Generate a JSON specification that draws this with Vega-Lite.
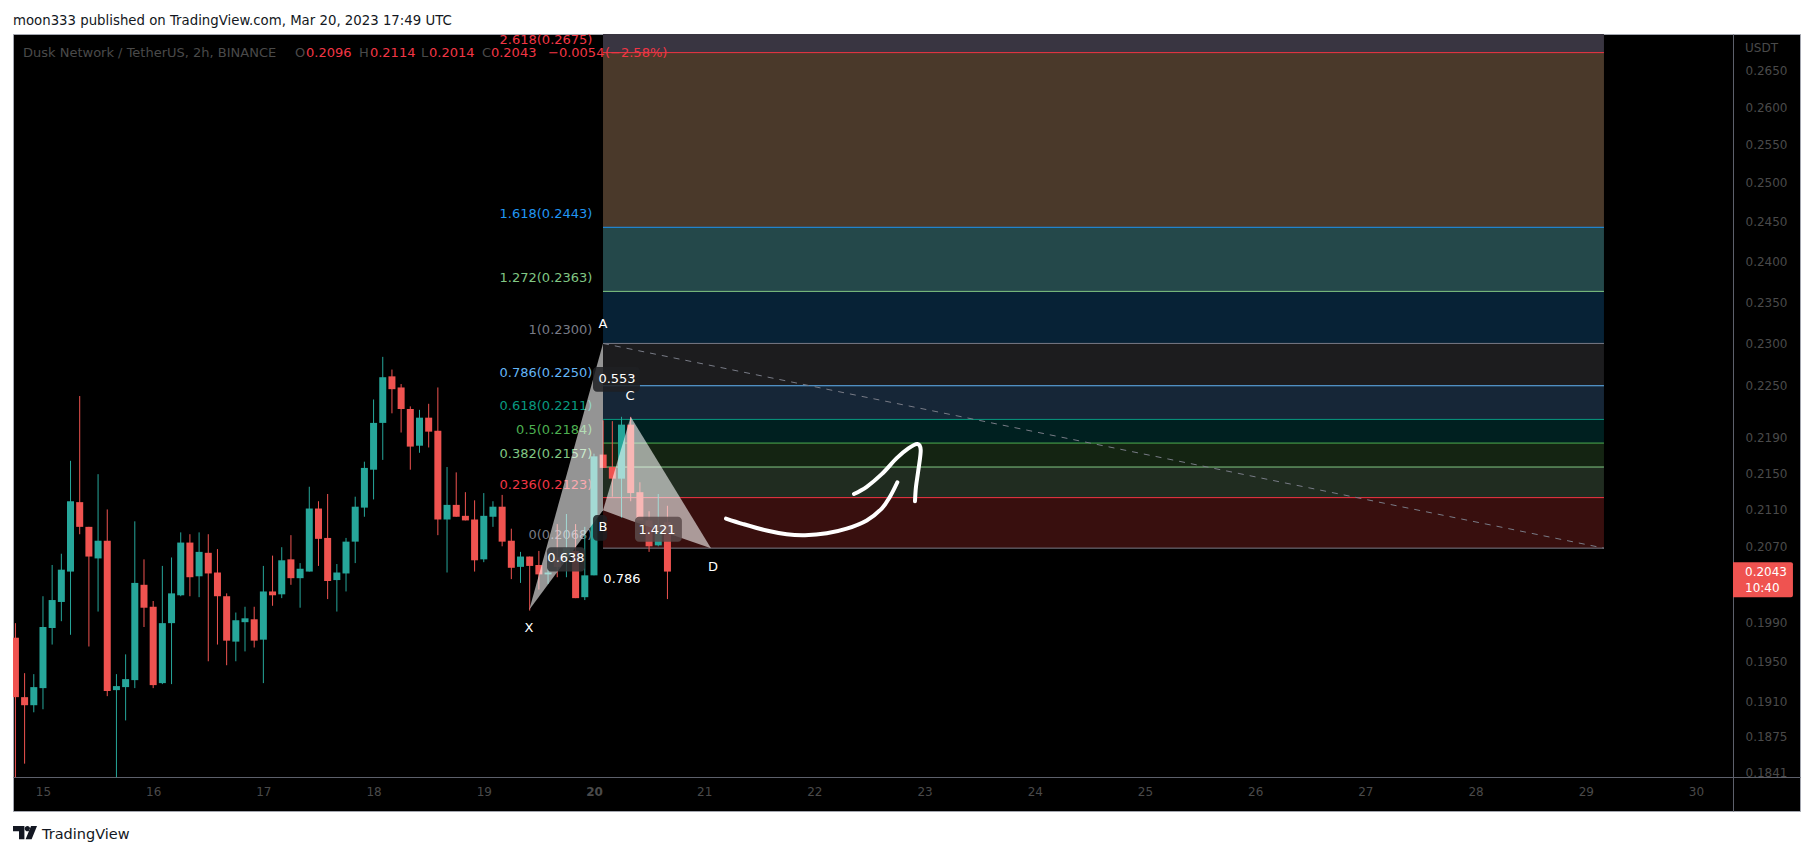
{"$schema":"https://vega.github.io/schema/vega-lite/v6.json","width":1787,"height":777,"autosize":"none","padding":{"left":13,"top":34,"right":13,"bottom":45},"background":"#ffffff","view":{"fill":"#000000","stroke":"#a3a6af"},"title":{"text":"moon333 published on TradingView.com, Mar 20, 2023 17:49 UTC","anchor":"start","frame":"group","font":"DejaVu Sans","fontSize":13.3,"fontWeight":"normal","color":"#131722","offset":7},"datasets":{"candles":[
{"t":14.75,"dir":"down","open":0.1974,"close":0.1914,"high":0.1989,"low":0.1836},{"t":14.8333,"dir":"down","open":0.1914,"close":0.1906,"high":0.1938,"low":0.1849},{"t":14.9167,"dir":"up","open":0.1906,"close":0.1924,"high":0.1937,"low":0.1899},{"t":15,"dir":"up","open":0.1923,"close":0.1985,"high":0.2017,"low":0.1902},{"t":15.0833,"dir":"up","open":0.1984,"close":0.2013,"high":0.205,"low":0.1967},{"t":15.1667,"dir":"up","open":0.2011,"close":0.2045,"high":0.2062,"low":0.1991},{"t":15.25,"dir":"up","open":0.2043,"close":0.2119,"high":0.2164,"low":0.1977},{"t":15.3333,"dir":"down","open":0.2118,"close":0.2091,"high":0.2238,"low":0.2083},{"t":15.4167,"dir":"down","open":0.2091,"close":0.2059,"high":0.2091,"low":0.1965},{"t":15.5,"dir":"up","open":0.2057,"close":0.2076,"high":0.2149,"low":0.2001},{"t":15.5833,"dir":"down","open":0.2076,"close":0.192,"high":0.211,"low":0.1915},{"t":15.6667,"dir":"up","open":0.1921,"close":0.1925,"high":0.1937,"low":0.1836},{"t":15.75,"dir":"up","open":0.1924,"close":0.1932,"high":0.1957,"low":0.1891},{"t":15.8333,"dir":"up","open":0.1931,"close":0.2031,"high":0.2097,"low":0.1923},{"t":15.9167,"dir":"down","open":0.2029,"close":0.2005,"high":0.2056,"low":0.1985},{"t":16,"dir":"down","open":0.2006,"close":0.1926,"high":0.2012,"low":0.1923},{"t":16.0833,"dir":"up","open":0.1928,"close":0.1989,"high":0.2049,"low":0.1927},{"t":16.1667,"dir":"up","open":0.1989,"close":0.202,"high":0.2058,"low":0.1927},{"t":16.25,"dir":"up","open":0.2018,"close":0.2074,"high":0.2085,"low":0.2017},{"t":16.3333,"dir":"down","open":0.2074,"close":0.2037,"high":0.2083,"low":0.2017},{"t":16.4167,"dir":"up","open":0.2038,"close":0.2064,"high":0.2085,"low":0.2016},{"t":16.5,"dir":"down","open":0.2063,"close":0.2041,"high":0.2083,"low":0.195},{"t":16.5833,"dir":"down","open":0.2042,"close":0.2017,"high":0.2067,"low":0.1967},{"t":16.6667,"dir":"down","open":0.2017,"close":0.1971,"high":0.202,"low":0.1946},{"t":16.75,"dir":"up","open":0.197,"close":0.1992,"high":0.2,"low":0.195},{"t":16.8333,"dir":"up","open":0.199,"close":0.1994,"high":0.2006,"low":0.196},{"t":16.9167,"dir":"down","open":0.1993,"close":0.1971,"high":0.2006,"low":0.1964},{"t":17,"dir":"up","open":0.1972,"close":0.2022,"high":0.2049,"low":0.1928},{"t":17.0833,"dir":"down","open":0.2022,"close":0.2018,"high":0.206,"low":0.2007},{"t":17.1667,"dir":"up","open":0.2019,"close":0.2055,"high":0.2069,"low":0.2015},{"t":17.25,"dir":"down","open":0.2056,"close":0.2036,"high":0.2082,"low":0.2029},{"t":17.3333,"dir":"up","open":0.2036,"close":0.2046,"high":0.2052,"low":0.2005},{"t":17.4167,"dir":"up","open":0.2043,"close":0.2111,"high":0.2135,"low":0.2043},{"t":17.5,"dir":"down","open":0.2111,"close":0.2078,"high":0.2119,"low":0.2049},{"t":17.5833,"dir":"down","open":0.2079,"close":0.2033,"high":0.2127,"low":0.2014},{"t":17.6667,"dir":"up","open":0.2034,"close":0.2042,"high":0.2051,"low":0.2001},{"t":17.75,"dir":"up","open":0.2041,"close":0.2075,"high":0.2079,"low":0.2022},{"t":17.8333,"dir":"up","open":0.2075,"close":0.2113,"high":0.2124,"low":0.2052},{"t":17.9167,"dir":"up","open":0.2112,"close":0.2156,"high":0.2163,"low":0.2102},{"t":18,"dir":"up","open":0.2154,"close":0.2207,"high":0.2234,"low":0.2121},{"t":18.0833,"dir":"up","open":0.2207,"close":0.226,"high":0.2284,"low":0.2165},{"t":18.1667,"dir":"down","open":0.2261,"close":0.2246,"high":0.2269,"low":0.2218},{"t":18.25,"dir":"down","open":0.2248,"close":0.2223,"high":0.2252,"low":0.2196},{"t":18.3333,"dir":"down","open":0.2223,"close":0.218,"high":0.2226,"low":0.2154},{"t":18.4167,"dir":"up","open":0.2181,"close":0.2213,"high":0.2222,"low":0.2173},{"t":18.5,"dir":"down","open":0.2213,"close":0.2197,"high":0.2229,"low":0.2179},{"t":18.5833,"dir":"down","open":0.2198,"close":0.2099,"high":0.2248,"low":0.2082},{"t":18.6667,"dir":"up","open":0.2099,"close":0.2115,"high":0.2157,"low":0.2042},{"t":18.75,"dir":"down","open":0.2115,"close":0.2102,"high":0.2151,"low":0.2102},{"t":18.8333,"dir":"down","open":0.2103,"close":0.2098,"high":0.2129,"low":0.2098},{"t":18.9167,"dir":"down","open":0.2099,"close":0.2055,"high":0.212,"low":0.2043},{"t":19,"dir":"up","open":0.2056,"close":0.2103,"high":0.2128,"low":0.2053},{"t":19.0833,"dir":"up","open":0.2102,"close":0.2113,"high":0.2119,"low":0.2091},{"t":19.1667,"dir":"down","open":0.2113,"close":0.2075,"high":0.2126,"low":0.207},{"t":19.25,"dir":"down","open":0.2076,"close":0.2047,"high":0.2089,"low":0.2035},{"t":19.3333,"dir":"up","open":0.2048,"close":0.2059,"high":0.2064,"low":0.2031},{"t":19.4167,"dir":"down","open":0.2059,"close":0.2049,"high":0.2059,"low":0.2002},{"t":19.5,"dir":"down","open":0.205,"close":0.204,"high":0.2065,"low":0.2024},{"t":19.5833,"dir":"up","open":0.204,"close":0.2042,"high":0.206,"low":0.203},{"t":19.6667,"dir":"down","open":0.2058,"close":0.2048,"high":0.2094,"low":0.2037},{"t":19.75,"dir":"up","open":0.2057,"close":0.2068,"high":0.2105,"low":0.2037},{"t":19.8333,"dir":"down","open":0.2065,"close":0.2015,"high":0.2094,"low":0.2015},{"t":19.9167,"dir":"up","open":0.2016,"close":0.2039,"high":0.2091,"low":0.2013},{"t":20,"dir":"up","open":0.2039,"close":0.2169,"high":0.2172,"low":0.2039},{"t":20.0833,"dir":"down","open":0.2171,"close":0.2156,"high":0.221,"low":0.2156},{"t":20.1667,"dir":"down","open":0.2157,"close":0.2144,"high":0.2209,"low":0.2124},{"t":20.25,"dir":"up","open":0.2144,"close":0.2205,"high":0.2214,"low":0.2101},{"t":20.3333,"dir":"down","open":0.2205,"close":0.2128,"high":0.2214,"low":0.2119},{"t":20.4167,"dir":"down","open":0.2129,"close":0.2098,"high":0.214,"low":0.2098},{"t":20.5,"dir":"down","open":0.2098,"close":0.207,"high":0.2108,"low":0.2064},{"t":20.5833,"dir":"up","open":0.2071,"close":0.2087,"high":0.2127,"low":0.207},{"t":20.6667,"dir":"down","open":0.2096,"close":0.2043,"high":0.2114,"low":0.2014}],
"bands":[{"zone":"z0","from":0.2675,"to":0.2701,"a":20.082,"b":29.165},{"zone":"z1","from":0.2443,"to":0.2675,"a":20.082,"b":29.165},{"zone":"z2","from":0.2363,"to":0.2443,"a":20.082,"b":29.165},{"zone":"z3","from":0.23,"to":0.2363,"a":20.082,"b":29.165},{"zone":"z4","from":0.225,"to":0.23,"a":20.082,"b":29.165},{"zone":"z5","from":0.2211,"to":0.225,"a":20.082,"b":29.165},{"zone":"z6","from":0.2184,"to":0.2211,"a":20.082,"b":29.165},{"zone":"z7","from":0.2157,"to":0.2184,"a":20.082,"b":29.165},{"zone":"z8","from":0.2123,"to":0.2157,"a":20.082,"b":29.165},{"zone":"z9","from":0.2068,"to":0.2123,"a":20.082,"b":29.165}],
"levels":[{"name":"2.618(0.2675)","key":"l2618","price":0.2675,"a":20.082,"b":29.165,"c":19.986},{"name":"1.618(0.2443)","key":"l1618","price":0.2443,"a":20.082,"b":29.165,"c":19.986},{"name":"1.272(0.2363)","key":"l1272","price":0.2363,"a":20.082,"b":29.165,"c":19.986},{"name":"1(0.2300)","key":"l1","price":0.23,"a":20.082,"b":29.165,"c":19.986},{"name":"0.786(0.2250)","key":"l786","price":0.225,"a":20.082,"b":29.165,"c":19.986},{"name":"0.618(0.2211)","key":"l618","price":0.2211,"a":20.082,"b":29.165,"c":19.986},{"name":"0.5(0.2184)","key":"l5","price":0.2184,"a":20.082,"b":29.165,"c":19.986},{"name":"0.382(0.2157)","key":"l382","price":0.2157,"a":20.082,"b":29.165,"c":19.986},{"name":"0.236(0.2123)","key":"l236","price":0.2123,"a":20.082,"b":29.165,"c":19.986},{"name":"0(0.2068)","key":"l0","price":0.2068,"a":20.082,"b":29.165,"c":19.986}],
"triangles":[{"tri":"XAB","t":19.413,"hi":0.2003,"lo":0.2003},{"tri":"XAB","t":20.082,"hi":0.23,"lo":0.2109},{"tri":"BCD","t":20.082,"hi":0.2109,"lo":0.2109},{"tri":"BCD","t":20.333,"hi":0.2214,"lo":0.2098},{"tri":"BCD","t":21.062,"hi":0.2068,"lo":0.2068}],
"tags":[{"tone":"dark","a":19.991,"b":20.417,"top":0.2272,"bottom":0.2243},{"tone":"soft","a":19.574,"b":19.918,"top":0.2069,"bottom":0.2043},{"tone":"mid","a":20.372,"b":20.798,"top":0.2102,"bottom":0.2075},{"tone":"dark","a":19.991,"b":20.12,"top":0.2104,"bottom":0.2076}],
"pattern":[{"s":"A","t":20.082,"p":0.2323},{"s":"B","t":20.082,"p":0.2091},{"s":"C","t":20.327,"p":0.2238},{"s":"D","t":21.08,"p":0.2048},{"s":"X","t":19.41,"p":0.1984},{"s":"0.553","t":20.209,"p":0.2258},{"s":"0.638","t":19.746,"p":0.2057},{"s":"1.421","t":20.572,"p":0.2088},{"s":"0.786","t":20.254,"p":0.2035}],
"trend":[{"t":20.082,"p":0.23},{"t":29.165,"p":0.2068}],
"arrow":[{"stroke":"a","n":1,"t":21.198,"p":0.21},{"stroke":"a","n":2,"t":21.355,"p":0.2094},{"stroke":"a","n":3,"t":21.567,"p":0.2087},{"stroke":"a","n":4,"t":21.749,"p":0.2083},{"stroke":"a","n":5,"t":21.915,"p":0.2082},{"stroke":"a","n":6,"t":22.112,"p":0.2084},{"stroke":"a","n":7,"t":22.293,"p":0.2089},{"stroke":"a","n":8,"t":22.475,"p":0.2098},{"stroke":"a","n":9,"t":22.611,"p":0.2111},{"stroke":"a","n":10,"t":22.686,"p":0.2124},{"stroke":"a","n":11,"t":22.753,"p":0.214},{"stroke":"b","n":1,"t":22.359,"p":0.2127},{"stroke":"b","n":2,"t":22.475,"p":0.2135},{"stroke":"b","n":3,"t":22.611,"p":0.2149},{"stroke":"b","n":4,"t":22.747,"p":0.2167},{"stroke":"b","n":5,"t":22.853,"p":0.2178},{"stroke":"b","n":6,"t":22.934,"p":0.2183},{"stroke":"b","n":7,"t":22.965,"p":0.2176},{"stroke":"b","n":8,"t":22.943,"p":0.2153},{"stroke":"b","n":9,"t":22.922,"p":0.2135},{"stroke":"b","n":10,"t":22.913,"p":0.2119}],
"legend":[{"s":"Dusk Network / TetherUS, 2h, BINANCE","t":14.819,"k":"dim"},{"s":"O","t":17.287,"k":"dim"},{"s":"0.2096","t":17.387,"k":"red"},{"s":"H","t":17.868,"k":"dim"},{"s":"0.2114","t":17.967,"k":"red"},{"s":"L","t":18.43,"k":"dim"},{"s":"0.2014","t":18.503,"k":"red"},{"s":"C","t":18.984,"k":"dim"},{"s":"0.2043","t":19.065,"k":"red"},{"s":"−0.0054","t":19.583,"k":"red"},{"s":"(−2.58%)","t":20.1,"k":"red"}],
"lastbox":[{"a":30.336,"b":30.88,"top":0.2053,"bottom":0.2016}],
"lasttext":[{"s":"0.2043","t":30.445,"p":0.2043,"w":"bold"},{"s":"10:40","t":30.445,"p":0.2026,"w":"normal"}]
},
"layer":[
{"data":{"name":"bands"},"mark":{"type":"rect"},"encoding":{"x":{"field":"a","type":"quantitative","scale":{"type":"linear","domain":[14.728,30.944],"nice":false,"zero":false,"padding":0},"axis":{"orient":"bottom","offset":-34,"title":null,"values":[15,16,17,18,19,20,21,22,23,24,25,26,27,28,29,30],"format":"d","grid":false,"ticks":false,"domainColor":"#5d606b","labelColor":"#4a4a4a","labelFont":"DejaVu Sans","labelFontSize":12,"labelPadding":9,"labelFlush":false,"labelOverlap":false,"labelFontWeight":{"condition":{"test":"datum.value == 20","value":"bold"},"value":"normal"}}},"x2":{"field":"b"},"y":{"field":"from","type":"quantitative","scale":{"type":"log","domain":[0.18041,0.2701],"nice":false,"zero":false},"axis":{"orient":"right","offset":-67,"title":null,"values":[0.265,0.26,0.255,0.25,0.245,0.24,0.235,0.23,0.225,0.219,0.215,0.211,0.207,0.199,0.195,0.191,0.1875,0.1841],"format":".4f","grid":false,"ticks":false,"domainColor":"#5d606b","labelColor":"#4a4a4a","labelFont":"DejaVu Sans","labelFontSize":12,"labelPadding":12,"labelBound":false,"labelFlush":false,"labelOverlap":false}},"y2":{"field":"to"},"color":{"field":"zone","type":"nominal","legend":null,"scale":{"domain":["z0","z1","z2","z3","z4","z5","z6","z7","z8","z9"],"range":["#393541","#4a392a","#24484a","#072236","#1c1c1e","#162637","#002020","#142412","#202c20","#380f0e"]}}}},
{"data":{"name":"levels"},"mark":{"type":"rule","strokeWidth":1},"encoding":{"x":{"field":"a","type":"quantitative"},"x2":{"field":"b"},"y":{"field":"price","type":"quantitative"},"color":{"field":"key","type":"nominal","legend":null,"scale":{"domain":["l2618","l1618","l1272","l1","l786","l618","l5","l382","l236","l0"],"range":["#f23645","#2196f3","#81c784","#787b86","#64b5f6","#089981","#4caf50","#81c784","#f23645","#787b86"]}}}},
{"data":{"name":"levels"},"mark":{"type":"text","align":"right","baseline":"middle","dy":-13,"font":"DejaVu Sans","fontSize":13,"clip":true},"encoding":{"x":{"field":"c","type":"quantitative"},"y":{"field":"price","type":"quantitative"},"text":{"field":"name"},"color":{"field":"key","type":"nominal","legend":null,"scale":{"domain":["l2618","l1618","l1272","l1","l786","l618","l5","l382","l236","l0"],"range":["#f23645","#2196f3","#81c784","#787b86","#64b5f6","#089981","#4caf50","#81c784","#f23645","#787b86"]}}}},
{"data":{"name":"candles"},"mark":{"type":"rule","strokeWidth":1,"clip":true},"encoding":{"x":{"field":"t","type":"quantitative"},"y":{"field":"low","type":"quantitative"},"y2":{"field":"high"},"color":{"field":"dir","type":"nominal","legend":null,"scale":{"domain":["up","down"],"range":["#26a69a","#ef5350"]}}}},
{"data":{"name":"candles"},"mark":{"type":"bar","size":7,"clip":true},"encoding":{"x":{"field":"t","type":"quantitative"},"y":{"field":"open","type":"quantitative"},"y2":{"field":"close"},"color":{"field":"dir","type":"nominal","legend":null,"scale":{"domain":["up","down"],"range":["#26a69a","#ef5350"]}}}},
{"data":{"name":"trend"},"mark":{"type":"line","color":"#787b86","strokeWidth":1,"strokeDash":[6,6]},"encoding":{"x":{"field":"t","type":"quantitative"},"y":{"field":"p","type":"quantitative"}}},
{"data":{"name":"triangles"},"mark":{"type":"area","color":"#ffffff","opacity":0.58},"encoding":{"x":{"field":"t","type":"quantitative"},"y":{"field":"hi","type":"quantitative"},"y2":{"field":"lo"},"detail":{"field":"tri"}}},
{"data":{"name":"tags"},"mark":{"type":"rect","opacity":0.85,"cornerRadius":4},"encoding":{"x":{"field":"a","type":"quantitative"},"x2":{"field":"b"},"y":{"field":"top","type":"quantitative"},"y2":{"field":"bottom"},"color":{"field":"tone","type":"nominal","legend":null,"scale":{"domain":["dark","soft","mid"],"range":["#1f2023","#333436","#5a4a4a"]}}}},
{"data":{"name":"pattern"},"mark":{"type":"text","align":"center","baseline":"middle","color":"#ffffff","font":"DejaVu Sans","fontSize":13},"encoding":{"x":{"field":"t","type":"quantitative"},"y":{"field":"p","type":"quantitative"},"text":{"field":"s"}}},
{"data":{"name":"arrow"},"mark":{"type":"line","color":"#ffffff","strokeWidth":4,"strokeCap":"round","strokeJoin":"round","interpolate":"cardinal"},"encoding":{"x":{"field":"t","type":"quantitative"},"y":{"field":"p","type":"quantitative"},"order":{"field":"n","type":"quantitative"},"detail":{"field":"stroke"}}},
{"data":{"name":"legend"},"mark":{"type":"text","align":"left","baseline":"middle","font":"DejaVu Sans","fontSize":13,"y":19},"encoding":{"x":{"field":"t","type":"quantitative"},"text":{"field":"s"},"color":{"field":"k","type":"nominal","legend":null,"scale":{"domain":["dim","red"],"range":["#4a4a4a","#f23645"]}}}},
{"data":{"name":"lastbox"},"mark":{"type":"rect","color":"#ef5350","cornerRadiusTopRight":2,"cornerRadiusBottomRight":2},"encoding":{"x":{"field":"a","type":"quantitative"},"x2":{"field":"b"},"y":{"field":"top","type":"quantitative"},"y2":{"field":"bottom"}}},
{"data":{"name":"lasttext"},"mark":{"type":"text","align":"left","baseline":"middle","color":"#ffffff","font":"DejaVu Sans","fontSize":12},"encoding":{"x":{"field":"t","type":"quantitative"},"y":{"field":"p","type":"quantitative"},"text":{"field":"s"},"fontWeight":{"field":"w","type":"nominal","scale":null}}},
{"data":{"values":[{"t":30.445,"p":0.2682,"s":"USDT"}]},"mark":{"type":"text","align":"left","baseline":"middle","color":"#4a4a4a","font":"DejaVu Sans","fontSize":12},"encoding":{"x":{"field":"t","type":"quantitative"},"y":{"field":"p","type":"quantitative"},"text":{"field":"s"}}},
{"data":{"values":[{"t":14.991,"p":0.1782,"s":"TradingView"}]},"mark":{"type":"text","align":"left","baseline":"middle","color":"#131722","font":"DejaVu Sans","fontSize":14.5},"encoding":{"x":{"field":"t","type":"quantitative"},"y":{"field":"p","type":"quantitative"},"text":{"field":"s"}}},
{"data":{"values":[{"t":14.837,"p":0.1784}]},"mark":{"type":"point","filled":true,"opacity":1,"color":"#131722","size":576,"shape":"M-1 -0.55H-0.05V0.55H-0.5V-0.1H-1Z M-0.02 -0.32a0.22 0.22 0 1 0 0.44 0a0.22 0.22 0 1 0 -0.44 0Z M0.5 -0.55H1L0.55 0.55H0.05Z"},"encoding":{"x":{"field":"t","type":"quantitative"},"y":{"field":"p","type":"quantitative"}}}
],
"resolve":{"scale":{"color":"independent"}}
}
